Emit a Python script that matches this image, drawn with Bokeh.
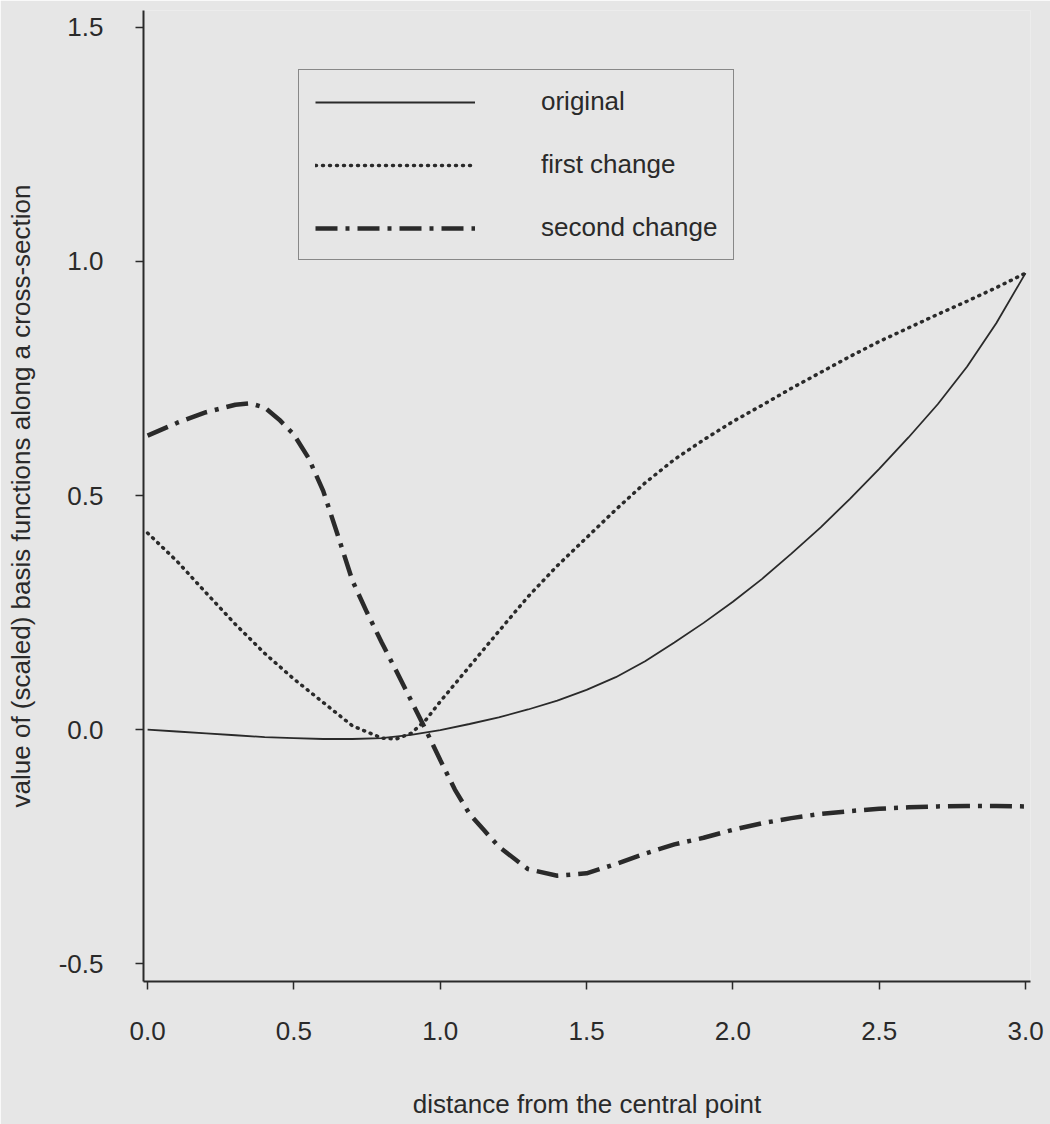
from bokeh.plotting import figure
from bokeh.models import Legend, LegendItem, FixedTicker, PrintfTickFormatter, Range1d
from bokeh.embed import file_html
from bokeh.resources import INLINE

# ---------------- data ----------------
x_original = [0.0, 0.1, 0.2, 0.3, 0.4, 0.5, 0.6, 0.7, 0.8, 0.9, 1.0, 1.1, 1.2, 1.3, 1.4,
              1.5, 1.6, 1.7, 1.8, 1.9, 2.0, 2.1, 2.2, 2.3, 2.4, 2.5, 2.6, 2.7, 2.8, 2.9, 3.0]
y_original = [0.0, -0.004, -0.008, -0.012, -0.016, -0.018, -0.020, -0.020, -0.018, -0.011, -0.001,
              0.012, 0.026, 0.043, 0.062, 0.085, 0.112, 0.146, 0.186, 0.228, 0.273, 0.322,
              0.376, 0.432, 0.493, 0.557, 0.624, 0.695, 0.775, 0.868, 0.975]

x_first = [0.0, 0.1, 0.2, 0.3, 0.4, 0.5, 0.6, 0.7, 0.8, 0.85, 0.9, 0.95, 1.0, 1.1, 1.2, 1.3,
           1.4, 1.5, 1.6, 1.7, 1.8, 1.9, 2.0, 2.1, 2.2, 2.3, 2.4, 2.5, 2.6, 2.7, 2.8, 2.9, 3.0]
y_first = [0.42, 0.36, 0.292, 0.225, 0.163, 0.108, 0.058, 0.008, -0.018, -0.020, -0.008, 0.020,
           0.060, 0.135, 0.210, 0.284, 0.350, 0.410, 0.470, 0.527, 0.577, 0.619, 0.658, 0.693,
           0.729, 0.763, 0.797, 0.829, 0.858, 0.887, 0.915, 0.944, 0.975]

x_second = [0.0, 0.1, 0.2, 0.3, 0.35, 0.4, 0.45, 0.5, 0.55, 0.6, 0.65, 0.7, 0.75, 0.8, 0.85,
            0.9, 0.95, 1.0, 1.05, 1.1, 1.15, 1.2, 1.3, 1.4, 1.5, 1.6, 1.7, 1.8, 1.9, 2.0,
            2.1, 2.2, 2.3, 2.4, 2.5, 2.6, 2.7, 2.8, 2.9, 3.0]
y_second = [0.628, 0.655, 0.678, 0.694, 0.697, 0.688, 0.662, 0.630, 0.580, 0.510, 0.415, 0.318,
            0.250, 0.186, 0.125, 0.063, 0.0, -0.065, -0.128, -0.180, -0.215, -0.250, -0.298,
            -0.312, -0.307, -0.287, -0.265, -0.245, -0.231, -0.214, -0.200, -0.189, -0.180,
            -0.174, -0.169, -0.166, -0.164, -0.163, -0.163, -0.164]

series_labels = ["original", "first change", "second change"]
x_ticks = [0.0, 0.5, 1.0, 1.5, 2.0, 2.5, 3.0]
y_ticks = [-0.5, 0.0, 0.5, 1.0, 1.5]

x_title = "distance from the central point"
y_title = "value of (scaled) basis functions along a cross-section"

# ---------------- styling ----------------
BG = "#e6e6e6"
INK = "#2a2a2a"
FONT = "Liberation Sans"

p = figure(width=1050, height=1124, output_backend="svg", toolbar_location=None,
           x_range=Range1d(-0.014, 3.017), y_range=Range1d(-0.538, 1.536),
           min_border_left=143, min_border_right=20, min_border_top=10, min_border_bottom=143)

p.background_fill_color = BG
p.border_fill_color = BG
p.outline_line_color = None
p.xgrid.grid_line_color = None
p.ygrid.grid_line_color = None

r0 = p.line(x_original, y_original, line_color=INK, line_width=1.8)
r1 = p.line(x_first, y_first, line_color=INK, line_width=3.5, line_dash="1 6", line_cap="round")
r2 = p.line(x_second, y_second, line_color=INK, line_width=4.5, line_dash="22 8 4 8")

for ax in (p.xaxis[0], p.yaxis[0]):
    ax.axis_line_color = INK
    ax.axis_line_width = 2
    ax.major_tick_line_color = INK
    ax.major_tick_line_width = 1.5
    ax.major_tick_out = 8
    ax.major_tick_in = 0
    ax.minor_tick_out = 0
    ax.minor_tick_in = 0
    ax.major_label_text_font = FONT
    ax.major_label_text_font_size = "26px"
    ax.major_label_text_color = INK
    ax.axis_label_text_font = FONT
    ax.axis_label_text_font_size = "26px"
    ax.axis_label_text_font_style = "normal"
    ax.axis_label_text_color = INK
    ax.formatter = PrintfTickFormatter(format="%.1f")

p.xaxis[0].ticker = FixedTicker(ticks=x_ticks)
p.yaxis[0].ticker = FixedTicker(ticks=y_ticks)
p.xaxis[0].major_label_standoff = 32
p.yaxis[0].major_label_standoff = 32
p.xaxis[0].axis_label = x_title
p.yaxis[0].axis_label = y_title
p.xaxis[0].axis_label_standoff = 46
p.yaxis[0].axis_label_standoff = 20

legend = Legend(items=[LegendItem(label=series_labels[0], renderers=[r0]),
                       LegendItem(label=series_labels[1], renderers=[r1]),
                       LegendItem(label=series_labels[2], renderers=[r2])],
                location=(155, 721),
                padding=16, margin=0, spacing=32,
                glyph_width=160, glyph_height=30, label_standoff=66,
                label_text_font=FONT, label_text_font_size="26px", label_text_color=INK,
                border_line_color=INK, border_line_width=1.5,
                background_fill_alpha=0)
p.add_layout(legend, "center")

open("out.html", "w").write(file_html(p, INLINE))
